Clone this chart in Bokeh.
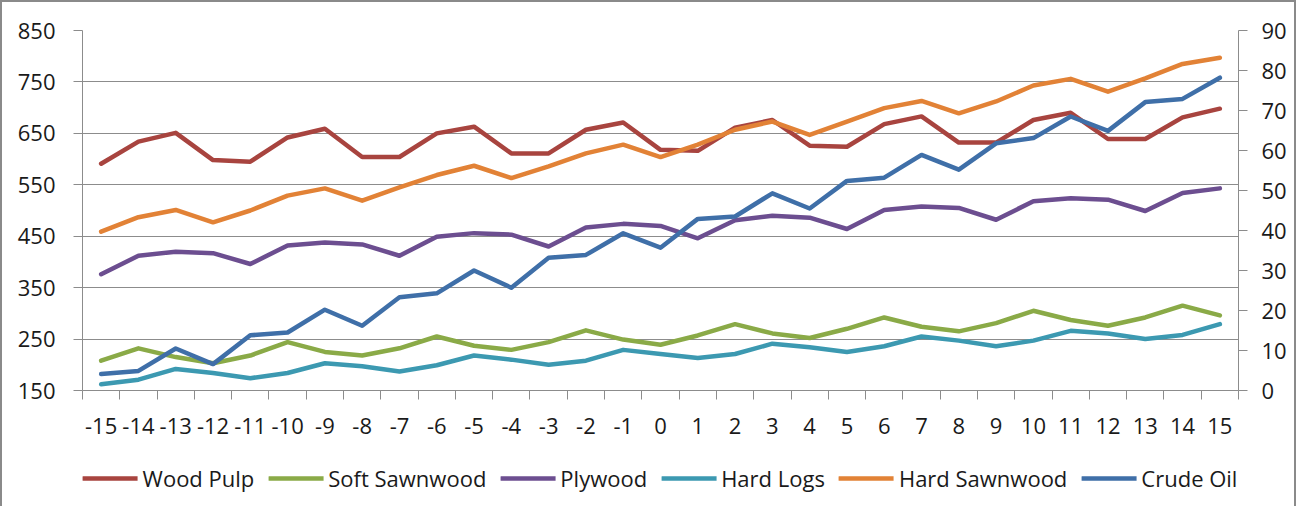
from bokeh.plotting import figure
from bokeh.models import Range1d, LinearAxis, FixedTicker, Legend, LegendItem
from bokeh.layouts import column
from bokeh.embed import file_html
from bokeh.resources import INLINE

periods = list(range(-15, 16))
period_labels = [str(v) for v in periods]

wood_pulp = [591, 634, 651, 598, 595, 642, 659, 604, 604, 650, 663, 611, 611, 657, 671, 618,
             616, 661, 676, 626, 624, 668, 683, 632, 632, 676, 690, 639, 639, 681, 698]
soft_sawnwood = [208, 232, 215, 203, 218, 244, 225, 218, 232, 255, 237, 229, 244, 267, 249, 239,
                 257, 279, 261, 252, 270, 292, 274, 265, 281, 305, 287, 276, 292, 315, 296]
plywood = [376, 412, 420, 417, 396, 432, 438, 434, 412, 449, 456, 453, 430, 467, 474, 470,
           446, 481, 490, 486, 464, 501, 508, 505, 482, 518, 524, 521, 499, 534, 543]
hard_logs = [162, 171, 192, 184, 174, 184, 203, 197, 187, 199, 218, 210, 200, 208, 229, 221,
             213, 221, 241, 234, 225, 236, 255, 247, 236, 247, 266, 261, 250, 258, 279]
hard_sawnwood = [459, 487, 501, 477, 500, 529, 543, 519, 545, 569, 587, 563, 586, 611, 628, 604,
                 628, 657, 673, 647, 673, 699, 713, 689, 712, 743, 756, 731, 757, 785, 797]
crude_oil = [4.1, 4.9, 10.5, 6.6, 13.8, 14.5, 20.2, 16.2, 23.3, 24.3, 30.0, 25.7, 33.2, 33.9, 39.3, 35.7,
             42.9, 43.5, 49.3, 45.5, 52.4, 53.2, 58.9, 55.2, 61.8, 63.1, 68.5, 64.9, 72.1, 72.9, 78.2]

left_ticks = [150, 250, 350, 450, 550, 650, 750, 850]
right_ticks = [0, 10, 20, 30, 40, 50, 60, 70, 80, 90]

FONT = "Open Sans"
GRAY = "#8c8c8c"
BORDER = "2px solid #8a8a8a"
TEXT = "#1a1a1a"

p = figure(width=1296, height=450,
           x_range=Range1d(-15.5, 15.5), y_range=Range1d(150, 850),
           output_backend="svg", toolbar_location=None,
           min_border_left=80, min_border_right=60, min_border_top=28, min_border_bottom=62)
p.extra_y_ranges = {"right": Range1d(0, 90)}
p.styles = {"border-left": BORDER, "border-top": BORDER, "border-right": BORDER}
p.outline_line_color = None
p.background_fill_color = "white"
p.border_fill_color = "white"

p.xgrid.visible = False
p.ygrid.ticker = FixedTicker(ticks=left_ticks)
p.ygrid.grid_line_color = GRAY
p.ygrid.grid_line_width = 1

# left axis
ya = p.yaxis[0]
ya.ticker = FixedTicker(ticks=left_ticks)
ya.axis_line_color = GRAY
ya.major_tick_line_color = GRAY
ya.major_tick_out = 9
ya.major_tick_in = 0
ya.minor_tick_line_color = None
ya.major_label_standoff = 18
ya.major_label_text_font = FONT
ya.major_label_text_font_size = "22px"
ya.major_label_text_color = TEXT

# bottom axis
xa = p.xaxis[0]
bounds = [v - 0.5 for v in periods] + [periods[-1] + 0.5]
xa.ticker = FixedTicker(ticks=periods, minor_ticks=bounds)
xa.major_label_overrides = dict(zip(periods, period_labels))
xa.axis_line_color = GRAY
xa.major_tick_line_color = None
xa.major_tick_out = 0
xa.major_tick_in = 0
xa.minor_tick_line_color = GRAY
xa.minor_tick_out = 9
xa.minor_tick_in = 0
xa.major_label_standoff = 18
xa.major_label_text_font = FONT
xa.major_label_text_font_size = "22px"
xa.major_label_text_color = TEXT

# right axis
ra = LinearAxis(y_range_name="right", ticker=FixedTicker(ticks=right_ticks))
ra.axis_line_color = GRAY
ra.major_tick_line_color = GRAY
ra.major_tick_out = 9
ra.major_tick_in = 0
ra.minor_tick_line_color = None
ra.major_label_standoff = 14
ra.major_label_text_font = FONT
ra.major_label_text_font_size = "22px"
ra.major_label_text_color = TEXT
p.add_layout(ra, "right")

series = [
    ("Wood Pulp", wood_pulp, "#a8443f", "default"),
    ("Soft Sawnwood", soft_sawnwood, "#8aaa47", "default"),
    ("Plywood", plywood, "#6c4e90", "default"),
    ("Hard Logs", hard_logs, "#3c99b1", "default"),
    ("Hard Sawnwood", hard_sawnwood, "#e28236", "default"),
    ("Crude Oil", crude_oil, "#3f6fa8", "right"),
]

for name, vals, col, rng in series:
    p.line(periods, vals, line_color=col, line_width=4.5, line_join="round", line_cap="round",
           y_range_name=rng)

# legend strip below the chart (same frame border); each key line uses the series'
# own data, but this strip's ranges keep those lines out of view
lg = figure(width=1296, height=56, x_range=Range1d(100, 101), y_range=Range1d(1000, 1001),
            output_backend="svg", toolbar_location=None,
            min_border_left=0, min_border_right=0, min_border_top=0, min_border_bottom=0)
lg.styles = {"border-left": BORDER, "border-right": BORDER}
lg.axis.visible = False
lg.grid.visible = False
lg.outline_line_color = None
lg.background_fill_color = "white"
lg.border_fill_color = "white"

items = []
for name, vals, col, rng in series:
    r = lg.line(periods, vals, line_color=col, line_width=4.5, line_cap="round")
    items.append(LegendItem(label=name, renderers=[r]))

legend = Legend(items=items, orientation="horizontal", location="center",
                glyph_width=55, glyph_height=20, label_standoff=5, spacing=14,
                padding=0, margin=0, border_line_color=None, background_fill_alpha=0,
                label_text_font=FONT, label_text_font_size="22px", label_text_color=TEXT)
lg.add_layout(legend)

layout = column(p, lg, spacing=0)
open("out.html", "w").write(file_html(layout, INLINE))
